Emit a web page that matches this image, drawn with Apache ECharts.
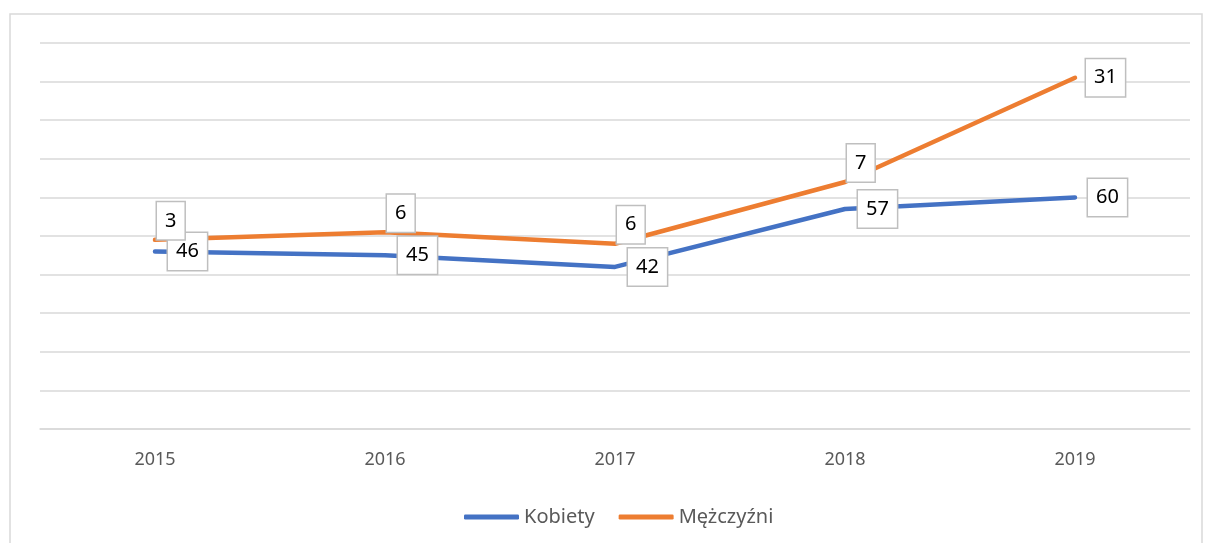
<!DOCTYPE html>
<html>
<head>
<meta charset="utf-8">
<script src="https://cdn.jsdelivr.net/npm/echarts@6/dist/echarts.min.js"></script>
<style>
  html, body { margin: 0; padding: 0; background: #fff; }
  #chart { width: 1205px; height: 543px; }
</style>
</head>
<body>
<div id="chart"></div>
<script>
const years = ["2015", "2016", "2017", "2018", "2019"]
const kobiety = [46, 45, 42, 57, 60]
const mezczyzni = [3, 6, 6, 7, 31]

const font = "'Noto Sans', 'Open Sans', sans-serif"

const labelBox = {
  show: true,
  position: "right",
  color: "#000",
  fontSize: 20,
  lineHeight: 20,
  fontFamily: font,
  backgroundColor: "#fff",
  borderColor: "#bfbfbf",
  borderWidth: 1.5,
  padding: [9, 8, 8, 8],
}

const chart = echarts.init(document.getElementById("chart"))

chart.setOption({
  animation: false,
  graphic: [
    {
      type: "rect",
      shape: { x: 10, y: 14, width: 1192, height: 560 },
      style: { fill: "none", stroke: "#d9d9d9", lineWidth: 1.5 },
    },
  ],
  grid: { left: 40, right: 15, top: 43, bottom: 114 },
  legend: {
    data: ["Kobiety", "Mężczyźni"],
    left: 459,
    top: 502,
    icon: "roundRect",
    itemWidth: 55,
    itemHeight: 5,
    itemGap: 24,
    textStyle: { color: "#595959", fontSize: 20, fontFamily: font },
  },
  xAxis: {
    type: "category",
    data: years,
    axisLine: { lineStyle: { color: "#d9d9d9", width: 1.5 } },
    axisTick: { show: false },
    axisLabel: { color: "#595959", fontSize: 18, fontFamily: font, margin: 22 },
  },
  yAxis: {
    type: "value",
    min: 0,
    max: 100,
    interval: 10,
    axisLabel: { show: false },
    axisLine: { show: false },
    axisTick: { show: false },
    splitLine: { lineStyle: { color: "#d9d9d9", width: 1.5 } },
  },
  series: [
    {
      name: "Kobiety",
      type: "line",
      stack: "total",
      data: kobiety,
      symbol: "circle",
      symbolSize: 0,
      showSymbol: true,
      lineStyle: { width: 4.5, color: "#4472c4", cap: "round" },
      itemStyle: { color: "#4472c4" },
      label: { ...labelBox, distance: 13 },
    },
    {
      name: "Mężczyźni",
      type: "line",
      stack: "total",
      symbol: "circle",
      symbolSize: 0,
      showSymbol: true,
      lineStyle: { width: 4.5, color: "#ed7d31", cap: "round" },
      itemStyle: { color: "#ed7d31" },
      label: { ...labelBox, distance: 2, offset: [0, -19] },
      data: mezczyzni.map((v, i) =>
        i === mezczyzni.length - 1 ? { value: v, label: { distance: 11, offset: [0, 0] } } : v
      ),
    },
  ],
})
</script>
</body>
</html>
